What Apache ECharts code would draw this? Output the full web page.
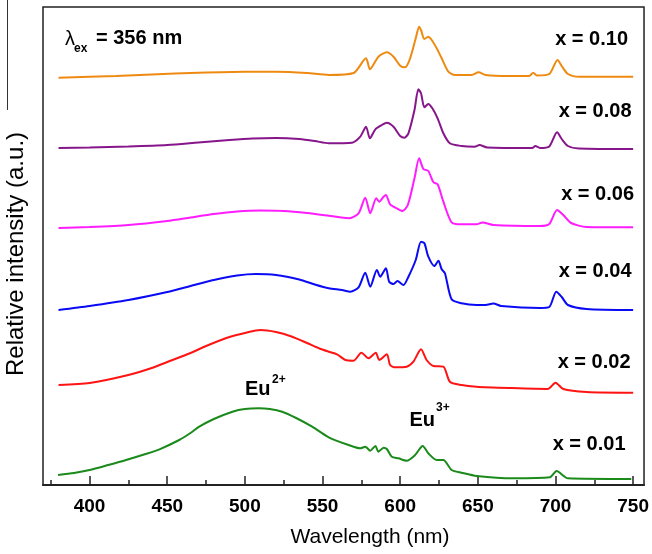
<!DOCTYPE html>
<html>
<head>
<meta charset="utf-8">
<script src="https://cdn.jsdelivr.net/npm/echarts@6/dist/echarts.min.js"></script>
<style>
html,body{margin:0;padding:0;background:#fff;}
#chart{width:652px;height:554px;}
</style>
</head>
<body>
<div id="chart"></div>
<script>
// Wavelengths (nm) and stacked relative intensities (a.u., offset per sample)
const wl010 = [380,417,440,470,500,520,540,554,570,578,580.5,586,591.4,595.7,600,603.2,606.4,610,612.2,613.4,615.6,618.1,620.3,623.5,626.7,631,635.3,646,650.4,655,670,683,685.7,688,696,701.3,704,708,715.6,750];
const int010 = [407.3,409,410.5,412.3,413.3,413.3,412,410,412,426.7,415.7,428.3,432.7,428.3,419.3,417.7,426.7,446.7,458.3,455,446,448.3,445,436.7,426.7,413.3,410,410,412.7,410,409,409,412.3,409.5,411,425,419,411,408.3,408.3];

const wl008 = [380,400,425,450,470,490,505,520,535,545,554,569,574.3,578,580.5,584,588.2,591.4,595.7,600,602.7,605.3,609.2,611.7,613.4,615.6,618.1,620.7,624.1,627.8,632,639.5,648,651,656,685,687,690,696,701,704,708,715,750];
const int008 = [337,337.5,338.5,340,342.5,345,346.5,347,346,344,341.7,342.3,348.3,358.3,346.7,355.7,360,362.3,358.3,349,347.3,351.7,375,395.7,391.7,377.7,381,376.7,366.7,351.7,341.7,339,338.3,340,337.5,337,339,337,338.5,352.7,346,339,336.5,336];

const wl006 = [380,400,425,450,465,480,495,510,525,540,554,566.8,573.2,577.5,580.7,584.6,586.5,589.3,590.8,593.5,597.8,601.5,604.9,609.2,612.2,614.9,618.1,621.4,624.1,627.8,633.1,639.5,649.1,653,660,690,696,701,705,710,720,750];
const int006 = [257,258,260,264,267.5,271,273.5,274.5,274,272,269.3,266.7,271.7,287.3,271.7,286.7,283.3,288.3,290,280.7,276.7,274,280,306.7,326.7,316,314,302.7,300.7,283.3,262.7,260.7,260.7,262.5,260,259,261,275,270,262,258,257.7];

const wl004 = [380,400,425,450,465,480,495,507,520,535,545,554,562.5,567.9,573.2,577.5,580.7,585,587.1,590.8,592.9,595.7,598.2,602.1,605.3,610,613.4,615.6,618.1,622,624.6,626.7,628.8,633.1,639.5,649.1,655,660,665,690,696,700.5,704,708,720,750];
const int004 = [175,179,185,193,199,205,209.5,211,210,205.5,200.5,196.7,195,193.3,197.7,212.3,198.3,215,208.3,216.7,203.3,201,204,200,208.3,225,243.3,241.7,228.3,219,224.3,215.7,211.7,185.7,181.7,180,180,181.5,179,177,178,193.3,188,180,176,175];

const wl002 = [380,400,425,440,450,465,475,490,500,510,520,530,540,548,554,559.3,564.7,570,575,579.6,584.3,586.5,591.4,593.5,596.7,604.2,608.5,613.4,617,621.4,627.8,632,639.5,649.1,670,695,700,705,720,750];
const int002 = [100,102,110,117,123,132,139,148,152,155,153,148.5,142,136.5,133.3,130.7,125,124.3,132.3,126.7,132.3,125,130.7,120,117.7,118.3,123.3,135.7,125,119,118.3,103.3,100,98.3,97,96,102.3,96,93,92.3];

const wl001 = [379.7,390,400,412,423.5,435,445,457.7,465,470.6,480,492,500,509,516,524,533,543.3,554,566.8,574.3,577.5,580.7,584,586,589.3,591.4,594.6,598.9,604.2,609.6,614.5,618.1,623.5,627.8,633.1,639.5,649.3,672.8,696.4,700.7,708,748.8];
const int001 = [10,12,15,20,25,30.5,35.7,45,52,58.3,66,73.3,76,76.7,76,73.3,67,58.3,47.7,40,36.7,38.3,34.3,39,33.3,37.3,36,28.3,26.7,24.3,30,39,31.7,25,25,15,12.3,9,6.7,7.7,14,6.7,6];

const sampleLabels = ['x = 0.10','x = 0.08','x = 0.06','x = 0.04','x = 0.02','x = 0.01'];
const majorTicks = [400,450,500,550,600,650,700,750];
const minorTicks = [375,425,475,525,575,625,675,725];

const colors = ['#EE8A12','#86168A','#FF1CFF','#0A0AF5','#FF1414','#1A8A1A'];
const wls = [wl010,wl008,wl006,wl004,wl002,wl001];
const ints = [int010,int008,int006,int004,int002,int001];

const FONT = '"Liberation Sans", Arial, sans-serif';

const series = wls.map((w,i)=>({
  type:'line',
  name: sampleLabels[i],
  showSymbol:false,
  smooth:0.25,
  data: w.map((x,j)=>[x, ints[i][j]]),
  lineStyle:{color:colors[i], width:2},
  itemStyle:{color:colors[i]},
  animation:false,
  z:3
}));

const chart = echarts.init(document.getElementById('chart'), null, {renderer:'canvas'});

const labelPos = [
  {x:628, y:39.5}, {x:631.5, y:111}, {x:634, y:194.5},
  {x:631.5, y:271.7}, {x:630.5, y:362.5}, {x:625.5, y:444}
];

const graphics = [
  {type:'line', shape:{x1:7.5,y1:0,x2:7.5,y2:110}, style:{stroke:'#333', lineWidth:1}},
  {type:'text', x:65, y:39, style:{text:'λ', font:'20px '+FONT, fill:'#000', textVerticalAlign:'middle'}},
  {type:'text', x:74, y:49, style:{text:'ex', font:'bold 12px '+FONT, fill:'#000', textVerticalAlign:'middle'}},
  {type:'text', x:96, y:38, style:{text:'= 356 nm', font:'bold 20px '+FONT, fill:'#000', textVerticalAlign:'middle'}},
  {type:'text', x:245, y:389.5, style:{text:'Eu', font:'bold 20px '+FONT, fill:'#000', textVerticalAlign:'middle'}},
  {type:'text', x:272, y:380, style:{text:'2+', font:'bold 12px '+FONT, fill:'#000', textVerticalAlign:'middle'}},
  {type:'text', x:409.5, y:420, style:{text:'Eu', font:'bold 20px '+FONT, fill:'#000', textVerticalAlign:'middle'}},
  {type:'text', x:436, y:408, style:{text:'3+', font:'bold 12px '+FONT, fill:'#000', textVerticalAlign:'middle'}},
  {type:'text', x:370, y:537, style:{text:'Wavelength (nm)', font:'21px '+FONT, fill:'#000', textAlign:'center', textVerticalAlign:'middle'}},
  {type:'text', x:16, y:254, rotation:Math.PI/2, style:{text:'Relative intensity (a.u.)', font:'24px '+FONT, fill:'#000', textAlign:'center', textVerticalAlign:'middle'}}
];
sampleLabels.forEach((t,i)=>{
  graphics.push({type:'text', x:labelPos[i].x, y:labelPos[i].y, style:{text:t, font:'bold 20px '+FONT, fill:'#000', textAlign:'right', textVerticalAlign:'middle'}});
});

chart.setOption({
  animation:false,
  backgroundColor:'#fff',
  grid:{left:43, right:5, top:7, bottom:69, show:true, borderColor:'#222', borderWidth:1.5, backgroundColor:'transparent'},
  xAxis:[{
    type:'value', min:370, max:757, position:'bottom',
    axisLine:{show:true, onZero:false, lineStyle:{color:'#222', width:2}},
    axisTick:{show:true, inside:true, length:9, customValues:majorTicks, lineStyle:{color:'#222', width:1.5}},
    axisLabel:{show:true, customValues:majorTicks, margin:12, color:'#000', fontSize:19, fontWeight:'bold', fontFamily:FONT},
    splitLine:{show:false}
  },{
    type:'value', min:370, max:757, position:'bottom',
    axisLine:{show:false},
    axisTick:{show:true, inside:true, length:5, customValues:minorTicks, lineStyle:{color:'#222', width:1.5}},
    axisLabel:{show:false},
    splitLine:{show:false}
  }],
  yAxis:{type:'value', min:0, max:478, show:false},
  series: series,
  graphic: graphics
});
</script>
</body>
</html>
